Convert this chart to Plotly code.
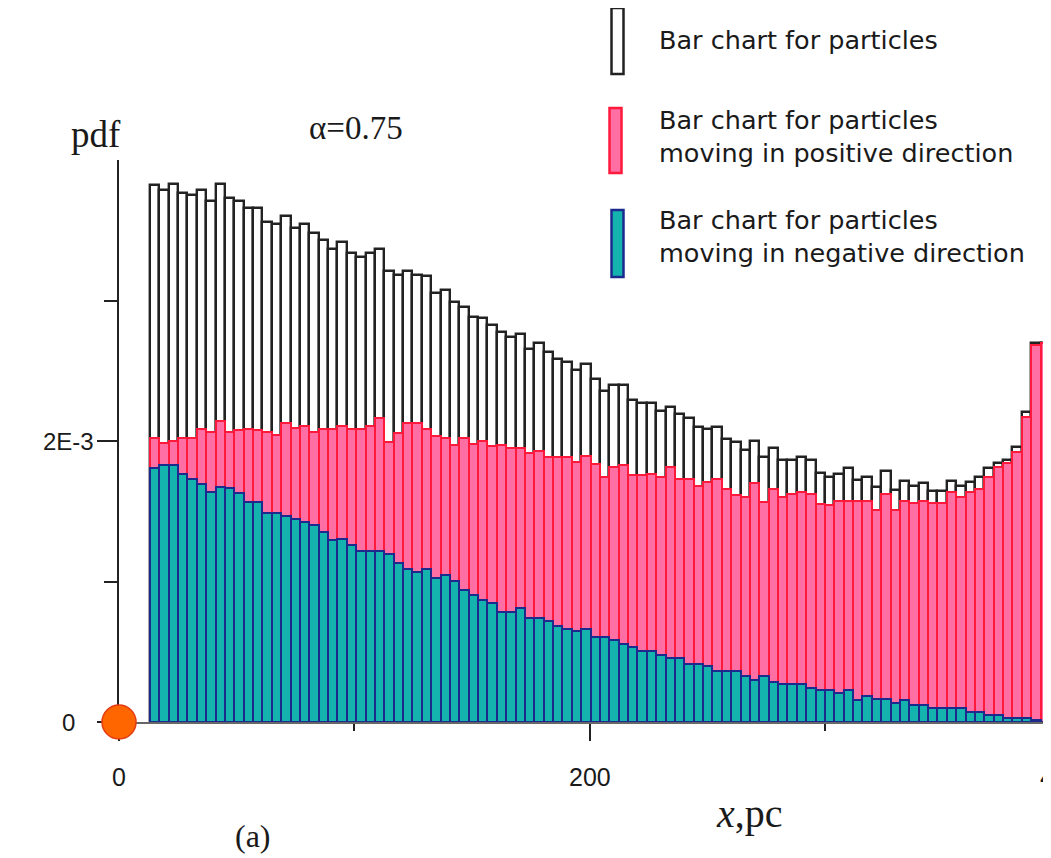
import plotly.graph_objects as go

# ---------------- data (pdf values, units of 1e-3) ----------------
bin_start = 13.16       # pc, left edge of first bin
bin_width = 3.981       # pc
n_bins = 96

total_pdf = [3.820, 3.785, 3.832, 3.765, 3.749, 3.790, 3.709, 3.832, 3.730, 3.706,
             3.659, 3.659, 3.559, 3.541, 3.602, 3.517, 3.541, 3.477, 3.434, 3.365,
             3.417, 3.335, 3.311, 3.335, 3.365, 3.209, 3.181, 3.209, 3.181, 3.176,
             3.050, 3.074, 2.991, 2.951, 2.884, 2.877, 2.825, 2.778, 2.742, 2.759,
             2.652, 2.695, 2.631, 2.584, 2.564, 2.505, 2.548, 2.441, 2.356, 2.399,
             2.399, 2.292, 2.269, 2.269, 2.214, 2.245, 2.193, 2.162, 2.102, 2.086,
             2.102, 2.015, 1.996, 1.937, 2.001, 1.889, 1.949, 1.866, 1.866, 1.889,
             1.866, 1.775, 1.747, 1.766, 1.811, 1.724, 1.743, 1.676, 1.783, 1.652,
             1.716, 1.683, 1.700, 1.647, 1.647, 1.716, 1.683, 1.707, 1.747, 1.811,
             1.846, 1.866, 1.956, 2.209, 2.695, 2.695]

positive_pdf = [2.024, 1.984, 2.003, 2.020, 2.024, 2.086, 2.063, 2.145, 2.063, 2.079,
                2.086, 2.079, 2.063, 2.043, 2.127, 2.095, 2.109, 2.063, 2.086, 2.086,
                2.109, 2.086, 2.086, 2.107, 2.166, 1.996, 2.055, 2.127, 2.127, 2.086,
                2.038, 2.020, 1.972, 2.020, 1.977, 2.001, 1.967, 1.972, 1.953, 1.953,
                1.913, 1.932, 1.889, 1.889, 1.889, 1.849, 1.894, 1.835, 1.747, 1.814,
                1.830, 1.759, 1.759, 1.764, 1.747, 1.814, 1.731, 1.731, 1.681, 1.707,
                1.728, 1.660, 1.617, 1.601, 1.704, 1.569, 1.660, 1.605, 1.622, 1.640,
                1.622, 1.553, 1.541, 1.574, 1.574, 1.574, 1.574, 1.510, 1.624, 1.510,
                1.574, 1.558, 1.574, 1.558, 1.558, 1.640, 1.601, 1.640, 1.660, 1.747,
                1.818, 1.842, 1.925, 2.173, 2.683, 2.695]

negative_pdf = [1.811, 1.830, 1.830, 1.764, 1.731, 1.693, 1.636, 1.676, 1.665, 1.633,
                1.565, 1.565, 1.487, 1.487, 1.468, 1.446, 1.423, 1.399, 1.352, 1.297,
                1.302, 1.257, 1.219, 1.219, 1.219, 1.195, 1.131, 1.089, 1.065, 1.091,
                1.025, 1.043, 1.006, 0.942, 0.901, 0.871, 0.847, 0.783, 0.783, 0.812,
                0.741, 0.741, 0.716, 0.681, 0.665, 0.645, 0.665, 0.606, 0.606, 0.586,
                0.556, 0.534, 0.503, 0.503, 0.480, 0.456, 0.456, 0.414, 0.414, 0.397,
                0.366, 0.366, 0.366, 0.326, 0.302, 0.330, 0.283, 0.267, 0.267, 0.267,
                0.245, 0.226, 0.226, 0.208, 0.226, 0.155, 0.183, 0.165, 0.165, 0.136,
                0.155, 0.119, 0.119, 0.101, 0.101, 0.101, 0.101, 0.072, 0.072, 0.053,
                0.053, 0.030, 0.030, 0.030, 0.013, 0.002]

x_tick_labels = ["0", "200", "400"]
x_tick_vals = [0, 200, 400]
y_tick_labels = ["0", "2E-3"]
y_tick_vals = [0, 2e-3]

legend_labels = ["Bar chart for particles",
                 "Bar chart for particles<br>moving in positive direction",
                 "Bar chart for particles<br>moving in negative direction"]

# ---------------- layout geometry ----------------
# The page body has an 8px margin, so the figure starts at page (8, 8).
OFF = 8
W, H = 1051 - OFF, 858 - OFF
L, R = 119 - OFF, 0
T = 160 - OFF
B = H - (722 - OFF)
PW, PH = W - L - R, H - T - B
X_MAX = 395.8
Y_MAX = 4e-3

def px(xp):
    """page pixel x -> paper fraction"""
    return (xp - OFF - L) / PW

def py(yp):
    """page pixel y -> paper fraction"""
    return (H - B - (yp - OFF)) / PH

centers = [bin_start + bin_width * (i + 0.5) for i in range(n_bins)]
scale = 1e-3

fig = go.Figure()
fig.add_trace(go.Bar(x=centers, y=[v * scale for v in total_pdf], width=bin_width,
                     marker=dict(color="white", line=dict(color="#222222", width=2.4)),
                     showlegend=False))
fig.add_trace(go.Bar(x=centers, y=[v * scale for v in positive_pdf], width=bin_width,
                     marker=dict(color="#ff6fa3", line=dict(color="#ff1a3c", width=2)),
                     showlegend=False))
fig.add_trace(go.Bar(x=centers, y=[v * scale for v in negative_pdf], width=bin_width,
                     marker=dict(color="#14b3ad", line=dict(color="#1c2a8e", width=2)),
                     showlegend=False))
fig.add_trace(go.Scatter(x=[0], y=[0], mode="markers", cliponaxis=False,
                         marker=dict(size=34, color="#ff6600",
                                     line=dict(color="#e43c12", width=1.5)),
                         showlegend=False, hoverinfo="skip"))

fig.update_layout(
    width=W, height=H,
    margin=dict(l=L, r=R, t=T, b=B, pad=0),
    paper_bgcolor="white", plot_bgcolor="white",
    barmode="overlay", bargap=0,
    xaxis=dict(range=[0, X_MAX], showgrid=False, zeroline=False,
               showline=True, linecolor="#666666", linewidth=2,
               ticks="outside", tickvals=x_tick_vals, ticklen=17, tickwidth=2,
               tickcolor="#222222", showticklabels=False, layer="below traces",
               minor=dict(ticks="outside", tickvals=[100, 300], ticklen=7,
                          tickwidth=2, tickcolor="#222222", showgrid=False)),
    yaxis=dict(range=[0, Y_MAX], showgrid=False, zeroline=False,
               showline=True, linecolor="#222222", linewidth=2,
               ticks="outside", tickvals=y_tick_vals, ticklen=20, tickwidth=2,
               tickcolor="#222222", showticklabels=False, layer="below traces",
               minor=dict(ticks="outside", tickvals=[1e-3, 3e-3], ticklen=13,
                          tickwidth=2, tickcolor="#222222", showgrid=False)),
)

ann = []
sans = "Liberation Sans, Arial, sans-serif"
serif = "Liberation Serif, Times New Roman, serif"
# tick labels (x position of each label follows the axis scale: 0 -> page 119, 400 -> page 1061)
px_per_unit = PW / X_MAX
for v, lab in zip(x_tick_vals, x_tick_labels):
    ann.append(dict(x=px(119 + v * px_per_unit), xref="paper", y=py(777), yref="paper",
                    text=lab, showarrow=False, xanchor="center", yanchor="middle",
                    font=dict(family=sans, size=25, color="#1a1a1a")))
for v, lab in zip(y_tick_vals, y_tick_labels):
    ann.append(dict(x=px(68), xref="paper", y=v, yref="y", text=lab, showarrow=False,
                    xanchor="center", yanchor="middle",
                    font=dict(family=sans, size=24, color="#1a1a1a")))
# titles / texts
ann.append(dict(x=px(96), y=py(134), xref="paper", yref="paper", text="pdf",
                showarrow=False, xanchor="center", yanchor="middle",
                font=dict(family=serif, size=37, color="#1a1a1a")))
ann.append(dict(x=px(356), y=py(128), xref="paper", yref="paper", text="α=0.75",
                showarrow=False, xanchor="center", yanchor="middle",
                font=dict(family=serif, size=33, color="#1a1a1a")))
ann.append(dict(x=px(749), y=py(813), xref="paper", yref="paper", text="<i>x</i>,pc",
                showarrow=False, xanchor="center", yanchor="middle",
                font=dict(family=serif, size=40, color="#1a1a1a")))
ann.append(dict(x=px(253), y=py(836), xref="paper", yref="paper", text="(a)",
                showarrow=False, xanchor="center", yanchor="middle",
                font=dict(family=serif, size=32, color="#1a1a1a")))

# legend (drawn manually)
legend_boxes = [((611.5, 8), (623.5, 74), "white", "#222222"),
                ((609.5, 108), (621.5, 173), "#ff6fa3", "#ff1a3c"),
                ((611.5, 210), (623.5, 277), "#14b3ad", "#1c2a8e")]
legend_text_y = [40, 136.5, 236.5]
shapes = []
for (p0, p1, fill, edge), ty, lab in zip(legend_boxes, legend_text_y, legend_labels):
    shapes.append(dict(type="rect", xref="paper", yref="paper",
                       x0=px(p0[0]), x1=px(p1[0]), y0=py(p1[1]), y1=py(p0[1]),
                       fillcolor=fill, line=dict(color=edge, width=2.5)))
    ann.append(dict(x=px(657), y=py(ty), xref="paper", yref="paper", text=lab,
                    showarrow=False, xanchor="left", yanchor="middle", align="left",
                    font=dict(family="DejaVu Sans, sans-serif", size=25.5, color="#1a1a1a")))

fig.update_layout(annotations=ann, shapes=shapes)
fig.write_html("out.html")
